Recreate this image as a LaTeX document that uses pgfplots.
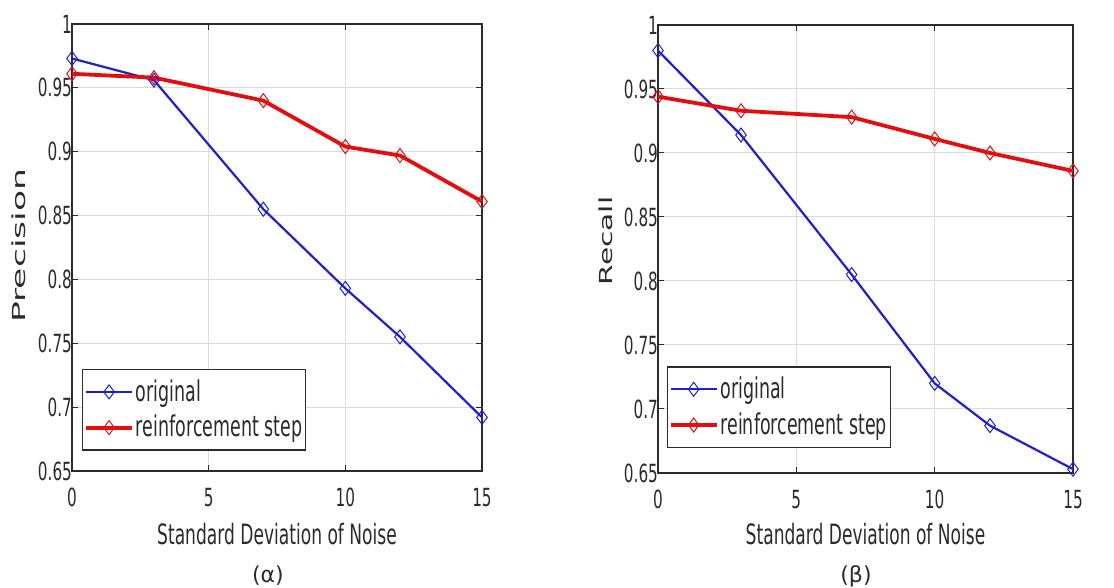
\documentclass[border=0pt]{standalone}
\usepackage{fontspec}
\setmainfont{DejaVu Sans}[FakeStretch=0.61]
\newfontfamily\plainfont{DejaVu Sans}
\usepackage{graphicx}
\usepackage{pgfplots}
\pgfplotsset{compat=1.18}
\definecolor{myblue}{rgb}{0.12,0.12,0.82}
\definecolor{myred}{rgb}{0.9,0.05,0.05}
\definecolor{txt}{gray}{0.17}

\pgfplotstableread{
x y
0 0.973
3 0.956
7 0.855
10 0.793
12 0.755
15 0.692
}\precorig
\pgfplotstableread{
x y
0 0.961
3 0.958
7 0.940
10 0.904
12 0.897
15 0.861
}\precreinf
\pgfplotstableread{
x y
0 0.980
3 0.914
7 0.805
10 0.720
12 0.687
15 0.653
}\recorig
\pgfplotstableread{
x y
0 0.944
3 0.933
7 0.928
10 0.911
12 0.900
15 0.886
}\recreinf

\pgfplotsset{
  mystyle/.style={
    scale only axis,
    xmin=0, xmax=15, ymin=0.65, ymax=1,
    xtick={0,5,10,15},
    ytick={0.65,0.7,0.75,0.8,0.85,0.9,0.95,1},
    yticklabels={0.65,0.7,0.75,0.8,0.85,0.9,0.95,1},
    xticklabels={0,5,10,15},
    /pgf/number format/assume math mode=true,
    grid=major,
    major grid style={gray!28, line width=0.5pt},
    axis line style={txt, line width=0.6pt},
    tick style={txt, line width=0.5pt},
    major tick length=3pt,
    tick align=inside,
    ticklabel style={font=\fontsize{12.5}{13}\selectfont, text=txt},
    xticklabel style={yshift=-5pt},
    yticklabel style={xshift=3.5pt},
    clip=false,
    legend cell align=left,
    legend image code/.code={%
      \draw[mark repeat=2,mark phase=2] plot coordinates {(0pt,0pt) (11.5pt,0pt) (23pt,0pt)};},
    legend style={at={(0,0)}, anchor=south west,
      font=\fontsize{14.3}{15}\selectfont, text=txt,
      draw=txt, line width=0.6pt,
      inner xsep=0.8pt, inner ysep=4pt,
      row sep=3.5pt,
      nodes={inner sep=1pt}},
    xlabel style={at={(axis description cs:0.5,0)}, anchor=base,
      font=\fontsize{14}{15}\selectfont, text=txt},
    ylabel style={anchor=base, text=txt},
    blueplot/.style={myblue, line width=1.1pt, mark=diamond, mark size=3.5pt,
      mark options={solid, line width=0.5pt}},
    redplot/.style={myred, line width=1.9pt, mark=diamond, mark size=3.5pt,
      mark options={solid, line width=0.5pt}},
  }
}

\begin{document}
\begin{tikzpicture}
\useasboundingbox (0,0) rectangle (557pt,294pt);

\begin{axis}[mystyle,
  at={(36pt,58.5pt)}, anchor=south west,
  width=205pt, height=223.5pt,
  xlabel={Standard Deviation of Noise},
  xlabel style={yshift=-37pt},
  ylabel={\plainfont\fontsize{9}{10}\selectfont\scalebox{1.92}[1]{Precision}},
  ylabel style={at={(axis description cs:-0.1146,0.504)}},
  legend style={xshift=5pt, yshift=10.2pt},
]
\addplot[blueplot] table {\precorig};
\addlegendentry{original}
\addplot[redplot] table {\precreinf};
\addlegendentry{reinforcement step}
\end{axis}

\begin{axis}[mystyle,
  at={(329pt,57.5pt)}, anchor=south west,
  width=207.5pt, height=224pt,
  xlabel={Standard Deviation of Noise},
  xlabel style={yshift=-36pt},
  ylabel={\plainfont\fontsize{9}{10}\selectfont\scalebox{1.65}[1]{Recall}},
  ylabel style={at={(axis description cs:-0.1096,0.518)}},
  legend style={xshift=4.3pt, yshift=12.5pt},
]
\addplot[blueplot] table {\recorig};
\addlegendentry{original}
\addplot[redplot] table {\recreinf};
\addlegendentry{reinforcement step}
\end{axis}

\node[anchor=base, text=txt, font=\plainfont\fontsize{11}{12}\selectfont] at (134pt,2.5pt) {(α)};
\node[anchor=base, text=txt, font=\plainfont\fontsize{11}{12}\selectfont] at (428pt,2.5pt) {(β)};
\end{tikzpicture}
\end{document}
